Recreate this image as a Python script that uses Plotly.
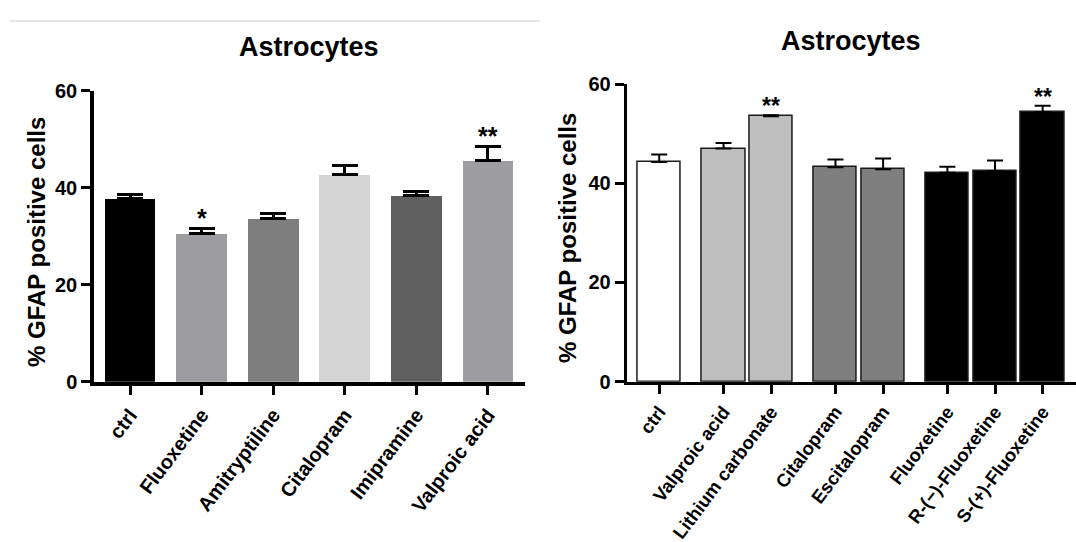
import plotly.graph_objects as go

# ---- Panel A: six treatments ----
left_labels = ["ctrl", "Fluoxetine", "Amitryptiline", "Citalopram", "Imipramine", "Valproic acid"]
left_means = [37.7, 30.6, 33.6, 42.7, 38.4, 45.6]
left_sem = [0.8, 0.95, 1.1, 1.85, 0.9, 2.8]
left_colors = ["#000000", "#9d9da1", "#7e7e7e", "#d4d4d4", "#5f5f5f", "#9e9ea2"]
left_stars = ["", "*", "", "", "", "**"]

# ---- Panel B: eight treatments in four groups ----
right_labels = ["ctrl", "Valproic acid", "Lithium carbonate", "Citalopram", "Escitalopram",
                "Fluoxetine", "R-(\u2212)-Fluoxetine", "S-(+)-Fluoxetine"]
right_pos = [0, 1.35, 2.35, 3.7, 4.7, 6.05, 7.05, 8.05]
right_means = [44.3, 47.0, 53.5, 43.2, 42.8, 42.1, 42.4, 54.3]
right_sem = [1.5, 1.1, 0.2, 1.6, 2.2, 1.2, 2.2, 1.3]
right_colors = ["#ffffff", "#bebebe", "#bebebe", "#7f7f7f", "#7f7f7f", "#000000", "#000000", "#000000"]
right_stars = ["", "", "**", "", "", "", "", "**"]

y_ticks = [0, 20, 40, 60]
title_text = "Astrocytes"
y_title = "% GFAP positive cells"

FONT = "Liberation Sans, Arial, Helvetica, sans-serif"
W, H = 1076, 542


def px_x(p):
    return p / W


def px_y(p):
    return 1 - p / H


fig = go.Figure()

fig.add_trace(go.Bar(
    x=list(range(len(left_labels))), y=left_means, width=0.71,
    marker=dict(color=left_colors, line=dict(width=0)),
    error_y=dict(type="data", array=left_sem, arrayminus=[0] * len(left_sem),
                 symmetric=False, color="#000000", thickness=3, width=13),
    xaxis="x", yaxis="y", showlegend=False,
))

fig.add_trace(go.Bar(
    x=right_pos, y=right_means, width=0.91,
    marker=dict(color=right_colors, line=dict(width=1.5, color="#1a1a1a")),
    error_y=dict(type="data", array=right_sem, arrayminus=[0] * len(right_sem),
                 symmetric=False, color="#000000", thickness=2, width=8),
    xaxis="x2", yaxis="y2", showlegend=False,
))

cat_font_left = dict(family=FONT, size=20, color="#000000", weight="bold")
cat_font_right = dict(family=FONT, size=18.5, color="#000000", weight="bold")
num_font = dict(family=FONT, size=20, color="#000000", weight="bold")

common = dict(showgrid=False, zeroline=False, automargin=False,
              linecolor="#000000", tickcolor="#000000", ticks="outside")

fig.update_layout(
    width=W, height=H,
    margin=dict(l=0, r=0, t=0, b=0, pad=0),
    paper_bgcolor="#ffffff", plot_bgcolor="#ffffff",
    bargap=0,
    xaxis=dict(
        domain=[px_x(94), px_x(525)], range=[-0.503, 5.517],
        tickvals=list(range(len(left_labels))), ticktext=left_labels,
        tickangle=-53, tickfont=cat_font_left,
        showline=True, linewidth=3.5, ticklen=10, tickwidth=3,
        anchor="y", **common,
    ),
    yaxis=dict(
        domain=[px_y(381.7), px_y(90.7)], range=[0, 60],
        tickvals=y_ticks, tickfont=num_font,
        showline=True, linewidth=3.5, ticklen=9, tickwidth=3,
        anchor="x", **common,
    ),
    xaxis2=dict(
        domain=[px_x(626.7), 1.0], range=[-0.683, 8.75],
        tickvals=right_pos, ticktext=right_labels,
        tickangle=-53, tickfont=cat_font_right,
        showline=True, linewidth=3, ticklen=9, tickwidth=3,
        anchor="y2", **common,
    ),
    yaxis2=dict(
        domain=[px_y(381.7), px_y(84)], range=[0, 60],
        tickvals=y_ticks, tickfont=num_font,
        showline=True, linewidth=3, ticklen=9, tickwidth=3,
        anchor="x2", **common,
    ),
)

annotations = []
# Panel titles
annotations.append(dict(text="<b>%s</b>" % title_text, x=px_x(309), y=px_y(47),
                        xref="paper", yref="paper", xanchor="center", yanchor="middle",
                        showarrow=False, font=dict(family=FONT, size=27, color="#000000")))
annotations.append(dict(text="<b>%s</b>" % title_text, x=px_x(851), y=px_y(41),
                        xref="paper", yref="paper", xanchor="center", yanchor="middle",
                        showarrow=False, font=dict(family=FONT, size=27, color="#000000")))
# Y axis titles
annotations.append(dict(text="<b>%s</b>" % y_title, x=px_x(37), y=px_y(242),
                        xref="paper", yref="paper", xanchor="center", yanchor="middle",
                        textangle=-90, showarrow=False,
                        font=dict(family=FONT, size=24, color="#000000")))
annotations.append(dict(text="<b>%s</b>" % y_title, x=px_x(567), y=px_y(238),
                        xref="paper", yref="paper", xanchor="center", yanchor="middle",
                        textangle=-90, showarrow=False,
                        font=dict(family=FONT, size=24, color="#000000")))

# Significance markers above the error bars
for i, s in enumerate(left_stars):
    if s:
        annotations.append(dict(text="<b>%s</b>" % s, x=i, y=left_means[i] + left_sem[i],
                                xref="x", yref="y", xanchor="center", yanchor="bottom",
                                yshift=-5, showarrow=False,
                                font=dict(family=FONT, size=25, color="#000000")))
for i, s in enumerate(right_stars):
    if s:
        annotations.append(dict(text="<b>%s</b>" % s, x=right_pos[i], y=right_means[i] + right_sem[i],
                                xref="x2", yref="y2", xanchor="center", yanchor="bottom",
                                yshift=-6, showarrow=False,
                                font=dict(family=FONT, size=23, color="#000000")))

fig.update_layout(annotations=annotations)

# Thin rule across the top of the first panel
fig.add_shape(type="line", xref="paper", yref="paper",
              x0=px_x(10), x1=px_x(540), y0=px_y(21), y1=px_y(21),
              line=dict(color="#d0d0d0", width=1))

fig.write_html("out.html")
